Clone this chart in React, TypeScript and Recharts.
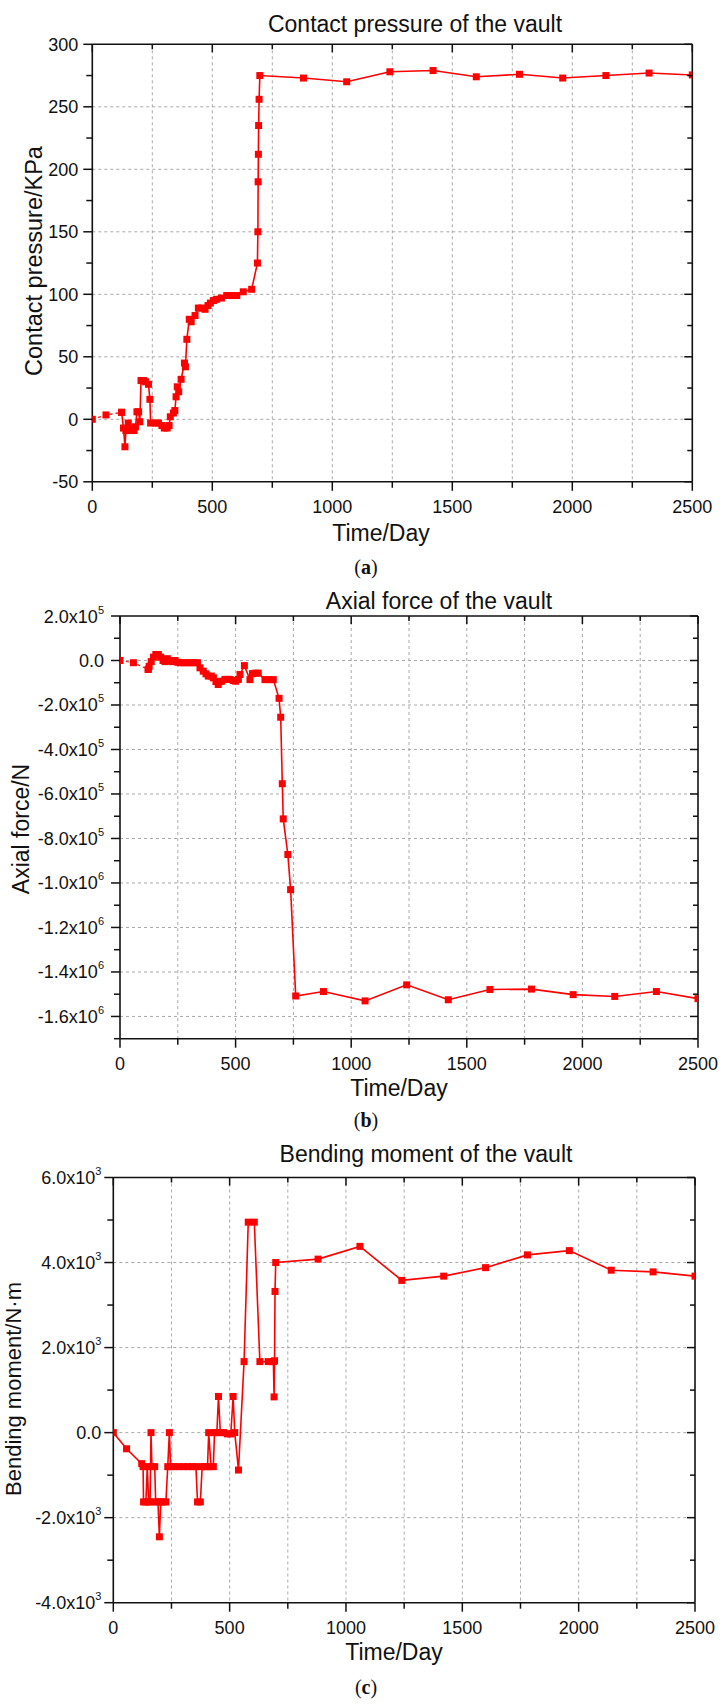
import React from 'react';
import { LineChart, Line, XAxis, YAxis, CartesianGrid, ReferenceLine } from 'recharts';

// ---------- shared x axis ----------
const dayTicks = [0, 250, 500, 750, 1000, 1250, 1500, 1750, 2000, 2250, 2500];
const dayLabels = [0, 500, 1000, 1500, 2000, 2500];
const dayGrid = [250, 500, 750, 1000, 1250, 1500, 1750, 2000, 2250];

// ---------- (a) contact pressure ----------
const contactDays = [0, 57, 122, 130, 136, 140, 150, 158, 166, 174, 180, 186, 193, 198, 203, 214, 222, 234, 240, 243, 262, 276, 290, 300, 312, 320, 325, 338, 344, 349, 354, 360, 370, 384, 388, 394, 404, 412, 428, 442, 456, 470, 482, 492, 505, 518, 538, 560, 580, 602, 629, 664, 688, 690, 691, 692, 693, 695, 698, 880, 1060, 1240, 1420, 1600, 1780, 1960, 2140, 2320, 2500];
const contactValues = [0, 3.5, 5.6, -7, -22, -9, -3, -9, -8, -9, -6, 6, 6, -2, 31, 31, 30, 28, 16, -3, -3, -3, -5, -7, -7, -5, 2, 5, 7, 18, 26, 22, 32, 45, 42, 64, 80, 78, 83, 89, 89, 88, 91, 93, 95, 96, 97, 99, 99, 99, 102, 104, 125, 150, 190, 212, 235, 256, 275, 273, 270, 278, 279, 274, 276, 273, 275, 277, 275.5];
const contactTicks = [-50, -25, 0, 25, 50, 75, 100, 125, 150, 175, 200, 225, 250, 275, 300];
const contactLabelValues = [-50, 0, 50, 100, 150, 200, 250, 300];
const contactLabelTexts = ['-50', '0', '50', '100', '150', '200', '250', '300'];
const contactGrid = [0, 50, 100, 150, 200, 250];

// ---------- (b) axial force ----------
const axialDays = [0, 58, 122, 126, 135, 145, 155, 166, 176, 186, 195, 205, 215, 225, 238, 250, 260, 275, 290, 305, 320, 335, 346, 360, 372, 382, 395, 404, 415, 425, 432, 440, 454, 466, 476, 490, 500, 512, 519, 538, 562, 573, 585, 598, 627, 645, 663, 688, 695, 702, 706, 726, 738, 760, 880, 1060, 1240, 1420, 1600, 1780, 1960, 2140, 2320, 2500];
const axialValues = [0, -10000, -40000, -26000, -5000, 15000, 27000, 27000, 15000, 0, -5000, 8000, 0, -5000, 0, -8000, -10000, -10000, -10000, -10000, -10000, -10000, -33000, -48000, -60000, -70000, -70000, -78000, -95000, -108000, -95000, -93000, -85000, -85000, -85000, -90000, -93000, -85000, -63000, -23000, -86000, -59000, -57000, -57000, -86000, -86000, -86000, -170000, -255000, -554000, -712000, -872000, -1030000, -1508000, -1488000, -1530000, -1458000, -1525000, -1479000, -1477000, -1502000, -1510000, -1488000, -1520000];
const axialTicks = [-1700000, -1600000, -1500000, -1400000, -1300000, -1200000, -1100000, -1000000, -900000, -800000, -700000, -600000, -500000, -400000, -300000, -200000, -100000, 0, 100000, 200000];
const axialLabelValues = [200000, 0, -200000, -400000, -600000, -800000, -1000000, -1200000, -1400000, -1600000];
const axialLabelTexts = ['2.0x10^5', '0.0', '-2.0x10^5', '-4.0x10^5', '-6.0x10^5', '-8.0x10^5', '-1.0x10^6', '-1.2x10^6', '-1.4x10^6', '-1.6x10^6'];
const axialGrid = [0, -200000, -400000, -600000, -800000, -1000000, -1200000, -1400000, -1600000];

// ---------- (c) bending moment ----------
const bendDays = [0, 57, 122, 128, 130, 140, 146, 152, 158, 162, 166, 178, 182, 192, 198, 204, 214, 226, 234, 241, 246, 260, 280, 300, 320, 340, 355, 362, 374, 382, 395, 405, 410, 420, 430, 435, 445, 452, 460, 475, 490, 505, 515, 522, 538, 562, 580, 606, 630, 666, 688, 691, 693, 695, 698, 880, 1060, 1240, 1420, 1600, 1780, 1960, 2140, 2320, 2500];
const bendValues = [0, -380, -730, -800, -1630, -1630, -800, -1630, -1630, 0, -800, -800, -1630, -1630, -2450, -1630, -1630, -1630, -800, 0, -800, -800, -800, -800, -800, -800, -800, -1630, -1630, -800, -800, -800, 0, -800, -800, 0, 0, 850, 0, 0, -30, -30, 850, 0, -880, 1670, 4950, 4950, 1670, 1670, 1670, 840, 1690, 3320, 4000, 4080, 4380, 3580, 3680, 3880, 4180, 4280, 3820, 3780, 3680];
const bendTicks = [-4000, -3000, -2000, -1000, 0, 1000, 2000, 3000, 4000, 5000, 6000];
const bendLabelValues = [6000, 4000, 2000, 0, -2000, -4000];
const bendLabelTexts = ['6.0x10^3', '4.0x10^3', '2.0x10^3', '0.0', '-2.0x10^3', '-4.0x10^3'];
const bendGrid = [-2000, 0, 2000, 4000];

const FONT = '"Liberation Sans", Arial, Helvetica, sans-serif';
const INK = '#111';
const RED = '#ff0000';
const W = 721;

type Box = { L: number; R: number; T: number; B: number };

function zip(days: number[], values: number[]) {
  return days.map((d, i) => ({ d, v: values[i] }));
}

const squareDot = (p: any) => {
  if (p.cx == null || p.cy == null) return <g key={`n${p.index}`} />;
  return <rect key={`d${p.index}`} x={p.cx - 3.5} y={p.cy - 3.5} width={7} height={7} fill={RED} />;
};

function makeXTick(top: number) {
  return (props: any) => {
    const { x, y, payload, index } = props;
    const v = payload.value;
    const major = dayLabels.includes(v);
    return (
      <g key={`xt${index}`}>
        <line x1={x} y1={y} x2={x} y2={y + (major ? 9 : 6)} stroke={INK} strokeWidth={1.5} />
        <line x1={x} y1={top} x2={x} y2={top + (major ? 8 : 5)} stroke={INK} strokeWidth={1.5} />
        {major && (
          <text x={x} y={y + 31} textAnchor="middle" fontSize={18} fill={INK} fontFamily={FONT}>
            {String(v)}
          </text>
        )}
      </g>
    );
  };
}

function makeYTick(right: number, labelValues: number[], labelTexts: string[], labelX: number) {
  return (props: any) => {
    const { x, y, payload, index } = props;
    const v = payload.value;
    const li = labelValues.indexOf(v);
    const major = li >= 0;
    let label: React.ReactNode = null;
    if (major) {
      const [base, exp] = labelTexts[li].split('^');
      label = (
        <text x={labelX} y={y + 6.5} textAnchor="end" fontSize={18} fill={INK} fontFamily={FONT}>
          <tspan>{base}</tspan>
          {exp && (
            <tspan dy={-9} fontSize={11}>
              {exp}
            </tspan>
          )}
        </text>
      );
    }
    return (
      <g key={`yt${index}`}>
        <line x1={x - (major ? 9 : 6)} y1={y} x2={x} y2={y} stroke={INK} strokeWidth={1.5} />
        <line x1={right - (major ? 8 : 5)} y1={y} x2={right} y2={y} stroke={INK} strokeWidth={1.5} />
        {label}
      </g>
    );
  };
}

type PanelProps = {
  top: number;
  height: number;
  box: Box;
  days: number[];
  values: number[];
  dashed: number;
  yDomain: [number, number];
  yTicks: number[];
  yLabelValues: number[];
  yLabelTexts: string[];
  yGrid: number[];
  labelGap: number;
};

function Panel(p: PanelProps) {
  const T = p.box.T - p.top;
  const B = p.box.B - p.top;
  const xAxisH = 40;
  const margin = { top: T, right: W - p.box.R, bottom: p.height - B - xAxisH, left: 0 };
  const all = zip(p.days, p.values);
  const early = p.dashed > 0 ? all.slice(0, p.dashed + 1) : [];
  const main = all.slice(p.dashed);
  return (
    <div style={{ position: 'absolute', left: 0, top: p.top, width: W, height: p.height }}>
      <LineChart width={W} height={p.height} margin={margin}>
        <CartesianGrid
          horizontalValues={p.yGrid}
          verticalValues={dayGrid}
          stroke="#a8a8a8"
          strokeDasharray="3 3"
          strokeWidth={1}
        />
        <XAxis
          dataKey="d"
          type="number"
          domain={[0, 2500]}
          ticks={dayTicks}
          interval={0}
          tickSize={0}
          tickMargin={0}
          tickLine={false}
          tick={makeXTick(T)}
          height={xAxisH}
          axisLine={{ stroke: INK, strokeWidth: 1.6 }}
          allowDataOverflow
        />
        <YAxis
          type="number"
          domain={p.yDomain}
          ticks={p.yTicks}
          interval={0}
          tickSize={0}
          tickMargin={0}
          tickLine={false}
          tick={makeYTick(p.box.R, p.yLabelValues, p.yLabelTexts, p.box.L - p.labelGap)}
          width={p.box.L}
          axisLine={{ stroke: INK, strokeWidth: 1.6 }}
          allowDataOverflow
        />
        <ReferenceLine y={p.yDomain[1]} stroke={INK} strokeWidth={1.6} />
        <ReferenceLine x={2500} stroke={INK} strokeWidth={1.6} />
        {early.length > 0 && (
          <Line
            data={early}
            dataKey="v"
            type="linear"
            stroke={RED}
            strokeWidth={1.2}
            strokeDasharray="3 3"
            dot={squareDot}
            isAnimationActive={false}
          />
        )}
        <Line
          data={main}
          dataKey="v"
          type="linear"
          stroke={RED}
          strokeWidth={1.6}
          dot={squareDot}
          isAnimationActive={false}
        />
      </LineChart>
    </div>
  );
}

function Caption({ x, y, letter }: { x: number; y: number; letter: string }) {
  return (
    <text x={x} y={y} textAnchor="middle" fontSize={20} fill={INK} fontFamily='"Liberation Serif", "Times New Roman", serif'>
      <tspan>(</tspan>
      <tspan fontWeight="bold">{letter}</tspan>
      <tspan>)</tspan>
    </text>
  );
}

function Title({ x, y, text, rotate, size }: { x: number; y: number; text: string; rotate?: boolean; size?: number }) {
  return (
    <text
      x={x}
      y={y}
      textAnchor="middle"
      fontSize={size ?? 23}
      fill={INK}
      fontFamily={FONT}
      transform={rotate ? `rotate(-90 ${x} ${y})` : undefined}
    >
      {text}
    </text>
  );
}

export default function App() {
  return (
    <div style={{ position: 'absolute', left: 0, top: 0, width: W, height: 1704, background: '#fff', overflow: 'hidden' }}>
      <Panel
        top={0}
        height={560}
        box={{ L: 92.3, R: 692.3, T: 44.3, B: 481.8 }}
        days={contactDays}
        values={contactValues}
        dashed={2}
        yDomain={[-50, 300]}
        yTicks={contactTicks}
        yLabelValues={contactLabelValues}
        yLabelTexts={contactLabelTexts}
        yGrid={contactGrid}
        labelGap={14}
      />
      <Panel
        top={560}
        height={560}
        box={{ L: 120, R: 698, T: 616, B: 1038.7 }}
        days={axialDays}
        values={axialValues}
        dashed={2}
        yDomain={[-1700000, 200000]}
        yTicks={axialTicks}
        yLabelValues={axialLabelValues}
        yLabelTexts={axialLabelTexts}
        yGrid={axialGrid}
        labelGap={16}
      />
      <Panel
        top={1120}
        height={584}
        box={{ L: 113.3, R: 695, T: 1177.5, B: 1602.7 }}
        days={bendDays}
        values={bendValues}
        dashed={0}
        yDomain={[-4000, 6000]}
        yTicks={bendTicks}
        yLabelValues={bendLabelValues}
        yLabelTexts={bendLabelTexts}
        yGrid={bendGrid}
        labelGap={12}
      />
      <svg
        width={W}
        height={1704}
        style={{ position: 'absolute', left: 0, top: 0, pointerEvents: 'none' }}
      >
        <Title x={415} y={32} text="Contact pressure of the vault" />
        <Title x={42} y={261} text="Contact pressure/KPa" rotate size={23.5} />
        <Title x={381} y={541} text="Time/Day" />
        <Caption x={366} y={574} letter="a" />

        <Title x={439} y={609} text="Axial force of the vault" />
        <Title x={29} y={829} text="Axial force/N" rotate />
        <Title x={399} y={1096} text="Time/Day" />
        <Caption x={366} y={1127} letter="b" />

        <Title x={426} y={1162} text="Bending moment of the vault" />
        <Title x={21} y={1389} text="Bending moment/N·m" rotate size={22} />
        <Title x={394} y={1660} text="Time/Day" />
        <Caption x={366} y={1694} letter="c" />
      </svg>
    </div>
  );
}
